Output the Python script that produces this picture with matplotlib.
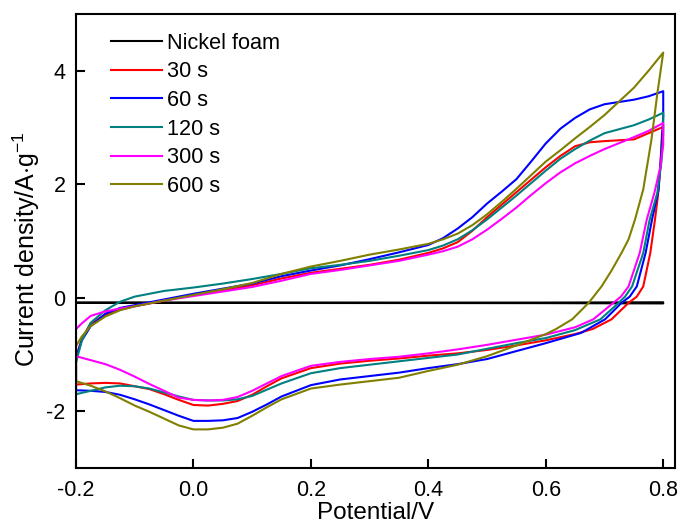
import matplotlib
matplotlib.use("Agg")
import matplotlib.pyplot as plt

plt.rcParams['font.family'] = ['Liberation Sans', 'DejaVu Sans']
plt.rcParams['mathtext.fontset'] = 'custom'
plt.rcParams['mathtext.rm'] = 'Liberation Sans'
plt.rcParams['axes.unicode_minus'] = False

# anodic scan potentials (shared by all samples)
v_up = [-0.2, -0.19, -0.175, -0.15, -0.125, -0.1, -0.05, 0.0, 0.05, 0.1, 0.15, 0.2,
        0.25, 0.3, 0.35, 0.4, 0.425, 0.45, 0.475, 0.5, 0.525, 0.55, 0.575, 0.6,
        0.625, 0.65, 0.675, 0.7, 0.75, 0.775, 0.8]

# cathodic scan potentials below 0.6 V (shared)
v_low = [0.55, 0.5, 0.45, 0.4, 0.35, 0.3, 0.25, 0.2, 0.15, 0.125, 0.1, 0.075, 0.05,
         0.025, 0.0, -0.025, -0.05, -0.075, -0.1, -0.125, -0.15, -0.175, -0.2]

# nickel foam
ni_v = [-0.2, 0.6, 0.8, 0.8, 0.6, -0.2]
ni_j = [-0.085, -0.085, -0.08, -0.10, -0.095, -0.09]

# 30 s
j_up_30 = [-1.05, -0.72, -0.45, -0.30, -0.21, -0.15, -0.05, 0.05, 0.12, 0.22, 0.34, 0.44,
           0.51, 0.58, 0.67, 0.79, 0.87, 0.98, 1.18, 1.42, 1.64, 1.86, 2.08, 2.30,
           2.50, 2.67, 2.74, 2.76, 2.79, 2.90, 3.01]
v_turn_30 = [0.798, 0.795, 0.791, 0.786, 0.778, 0.766, 0.755, 0.741, 0.712, 0.68, 0.65, 0.6]
j_turn_30 = [2.90, 2.30, 1.80, 1.38, 0.79, 0.20, 0.02, -0.09, -0.38, -0.55, -0.64, -0.75]
j_low_30 = [-0.84, -0.92, -0.98, -1.02, -1.07, -1.11, -1.16, -1.24, -1.42, -1.56, -1.71,
            -1.82, -1.87, -1.90, -1.89, -1.80, -1.70, -1.61, -1.56, -1.51, -1.50, -1.51, -1.53]

# 60 s
j_up_60 = [-1.05, -0.75, -0.50, -0.28, -0.18, -0.13, -0.03, 0.07, 0.16, 0.25, 0.38, 0.48,
           0.57, 0.68, 0.80, 0.93, 1.05, 1.22, 1.42, 1.66, 1.87, 2.09, 2.40, 2.72,
           2.98, 3.17, 3.32, 3.41, 3.49, 3.55, 3.64]
v_turn_60 = [0.800, 0.797, 0.792, 0.781, 0.770, 0.755, 0.743, 0.729, 0.701, 0.66, 0.6]
j_turn_60 = [3.20, 2.60, 1.90, 1.38, 0.79, 0.20, 0.02, -0.09, -0.38, -0.62, -0.80]
j_low_60 = [-0.94, -1.08, -1.17, -1.24, -1.32, -1.38, -1.44, -1.54, -1.74, -1.88, -2.01,
            -2.12, -2.16, -2.17, -2.17, -2.08, -1.98, -1.88, -1.79, -1.71, -1.66, -1.64, -1.63]

# 120 s
j_up_120 = [-1.14, -0.75, -0.44, -0.22, -0.07, 0.02, 0.12, 0.18, 0.25, 0.33, 0.42, 0.52,
            0.58, 0.65, 0.74, 0.84, 0.92, 1.03, 1.19, 1.38, 1.59, 1.80, 2.02, 2.24,
            2.45, 2.62, 2.77, 2.90, 3.04, 3.14, 3.26]
v_turn_120 = [0.8, 0.797, 0.79, 0.777, 0.766, 0.747, 0.735, 0.724, 0.693, 0.65, 0.6]
j_turn_120 = [2.90, 2.40, 1.85, 1.38, 0.79, 0.20, 0.02, -0.09, -0.38, -0.57, -0.71]
j_low_120 = [-0.80, -0.90, -1.00, -1.06, -1.12, -1.18, -1.24, -1.33, -1.51, -1.62, -1.73,
             -1.79, -1.81, -1.81, -1.80, -1.74, -1.67, -1.60, -1.56, -1.55, -1.58, -1.64, -1.70]

# 300 s
j_up_300 = [-0.55, -0.45, -0.32, -0.24, -0.19, -0.15, -0.05, 0.03, 0.11, 0.19, 0.30, 0.42,
            0.49, 0.57, 0.65, 0.76, 0.82, 0.90, 1.03, 1.20, 1.39, 1.59, 1.81, 2.02,
            2.21, 2.37, 2.50, 2.62, 2.83, 2.94, 3.08]
v_turn_300 = [0.8, 0.795, 0.785, 0.772, 0.760, 0.741, 0.728, 0.715, 0.681, 0.65, 0.6]
j_turn_300 = [2.70, 2.30, 1.85, 1.38, 0.79, 0.20, 0.02, -0.09, -0.38, -0.52, -0.65]
j_low_300 = [-0.74, -0.83, -0.91, -0.98, -1.04, -1.08, -1.13, -1.20, -1.38, -1.51, -1.64,
             -1.75, -1.80, -1.81, -1.80, -1.76, -1.64, -1.52, -1.39, -1.27, -1.17, -1.10, -1.03]

# 600 s
j_up_600 = [-0.85, -0.68, -0.50, -0.33, -0.22, -0.15, -0.05, 0.05, 0.15, 0.26, 0.42, 0.55,
            0.65, 0.76, 0.85, 0.95, 1.03, 1.13, 1.28, 1.47, 1.69, 1.92, 2.16, 2.40,
            2.60, 2.81, 3.01, 3.22, 3.70, 4.00, 4.32]
v_turn_600 = [0.790, 0.780, 0.766, 0.752, 0.741, 0.729, 0.712, 0.695, 0.673, 0.645, 0.616, 0.6]
j_turn_600 = [3.60, 2.79, 1.91, 1.38, 1.03, 0.79, 0.48, 0.20, -0.09, -0.38, -0.56, -0.64]
j_low_600 = [-0.84, -1.03, -1.18, -1.29, -1.41, -1.47, -1.53, -1.60, -1.79, -1.93, -2.08,
             -2.22, -2.29, -2.32, -2.32, -2.25, -2.13, -2.01, -1.90, -1.77, -1.65, -1.55, -1.47]

samples = [
    ('30 s', '#ff0000', j_up_30, v_turn_30, j_turn_30, j_low_30),
    ('60 s', '#0000ff', j_up_60, v_turn_60, j_turn_60, j_low_60),
    ('120 s', '#008080', j_up_120, v_turn_120, j_turn_120, j_low_120),
    ('300 s', '#ff00ff', j_up_300, v_turn_300, j_turn_300, j_low_300),
    ('600 s', '#808000', j_up_600, v_turn_600, j_turn_600, j_low_600),
]

fig = plt.figure(figsize=(6.8, 5.25), dpi=100)
ax = fig.add_axes([0.1118, 0.1086, 0.8808, 0.8647])

ax.plot(ni_v, ni_j, color='black', lw=1.5, label='Nickel foam')
for name, col, ju, vt, jt, jl in samples:
    v = v_up + vt + v_low + [v_up[0]]
    j = ju + jt + jl + [ju[0]]
    ax.plot(v, j, color=col, lw=1.5, label=name)

ax.set_xlim(-0.2, 0.82)
ax.set_ylim(-3, 5)
ax.set_xticks([-0.2, 0.0, 0.2, 0.4, 0.6, 0.8])
ax.set_xticklabels(['-0.2', '0.0', '0.2', '0.4', '0.6', '0.8'])
ax.set_yticks([-2, 0, 2, 4])
ax.tick_params(direction='in', length=6.5, width=1.5, labelsize=15.5)
ax.tick_params(axis='x', pad=8.5)
ax.tick_params(axis='y', pad=7.5)
for s in ax.spines.values():
    s.set_linewidth(1.5)

ax.set_xlabel('Potential/V', fontsize=17.5, labelpad=1)
ax.set_ylabel('Current density/A$\\cdot$g$^{-1}$', fontsize=18)
ax.yaxis.set_label_coords(-0.057, 0.482)

ax.legend(loc='upper left', bbox_to_anchor=(0.058, 0.9586), frameon=False, fontsize=15.6,
          handlelength=2.35, handletextpad=0.23, labelspacing=0.35, borderpad=0, borderaxespad=0)

fig.savefig('out.png', dpi=100)
